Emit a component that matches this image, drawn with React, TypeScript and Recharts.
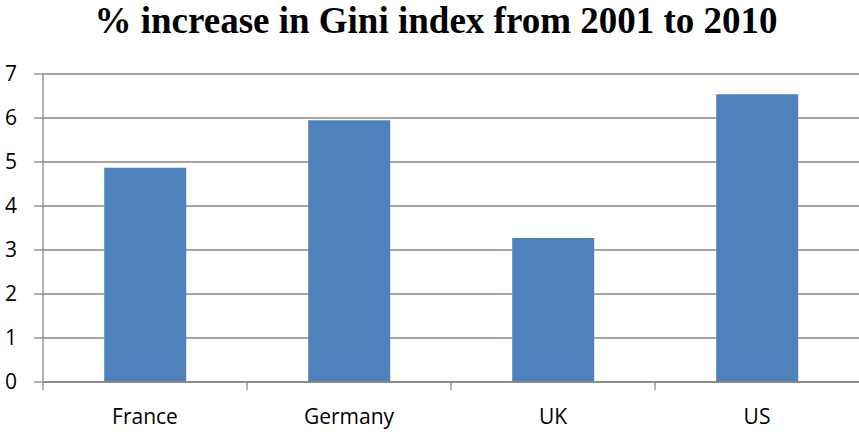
import React from "react";
import { BarChart, Bar, XAxis, YAxis, CartesianGrid } from "recharts";

const countries = ["France", "Germany", "UK", "US"];
const giniIncrease = [4.87, 5.95, 3.27, 6.54];
const yTicks = [0, 1, 2, 3, 4, 5, 6, 7];
const titleText = "% increase in Gini index from 2001 to 2010";

const data = countries.map((c, i) => ({ country: c, value: giniIncrease[i] }));

const GRID = "#878787";

const XTick = (props: any) => {
  const { x, y, payload } = props;
  const half = payload && payload.offset ? payload.offset : 102;
  return (
    <g>
      <line x1={x - half} x2={x - half} y1={y - 8} y2={y} stroke={GRID} strokeWidth={1.3} />
      <text x={x} y={y + 34} textAnchor="middle" fill="#000" fontFamily="'Open Sans', sans-serif" fontSize={21}>
        {payload.value}
      </text>
    </g>
  );
};

export default function App() {
  return (
    <div style={{ position: "absolute", left: 0, top: 0, width: 859, height: 432, background: "#fff", overflow: "hidden" }}>
      <div
        style={{
          position: "absolute",
          left: 0,
          width: 859,
          paddingLeft: 13,
          boxSizing: "border-box",
          top: 0,
          textAlign: "center",
          fontFamily: "'Liberation Serif', 'Times New Roman', serif",
          fontWeight: "bold",
          fontSize: 37,
          lineHeight: "42px",
          color: "#000",
          whiteSpace: "nowrap",
        }}
      >
        {titleText}
      </div>
      <BarChart width={859} height={432} data={data} margin={{ top: 74, right: 0, bottom: 0, left: 0 }} barCategoryGap="30%">
        <CartesianGrid vertical={false} stroke={GRID} strokeWidth={1.3} />
        <XAxis
          dataKey="country"
          height={50}
          stroke={GRID}
          strokeWidth={1.3}
          tickLine={false}
          tickSize={8}
          tickMargin={0}
          tick={<XTick />}
          interval={0}
        />
        <YAxis
          width={43}
          domain={[0, 7]}
          ticks={yTicks}
          interval={0}
          stroke={GRID}
          strokeWidth={1.3}
          tickSize={9}
          tickMargin={17}
          tick={{ fill: "#000", fontSize: 21, fontFamily: "'Open Sans', sans-serif" }}
          tickLine={{ stroke: GRID, strokeWidth: 1.3 }}
        />
        <Bar dataKey="value" fill="#4F81BD" isAnimationActive={false} />
      </BarChart>
    </div>
  );
}
